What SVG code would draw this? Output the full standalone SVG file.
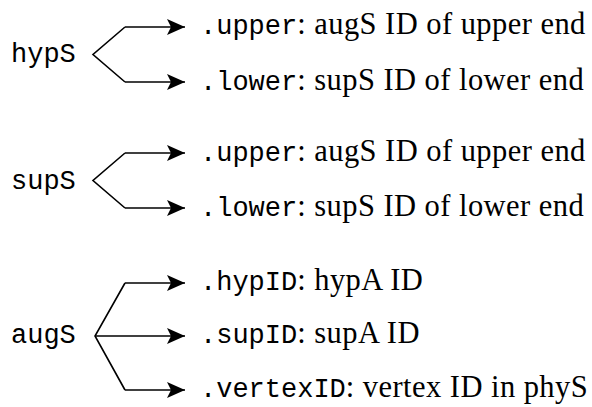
<svg xmlns="http://www.w3.org/2000/svg" width="592" height="407" viewBox="0 0 592 407">
  <style>
    .tt { font-family: "Liberation Mono", "DejaVu Sans Mono", monospace; font-size: 27px; fill: #000; }
    .rm { font-family: "Liberation Serif", "DejaVu Serif", serif; font-size: 30.5px; letter-spacing: 0.45px; fill: #000; }
    .edge { fill: none; stroke: #000; stroke-width: 1.6; stroke-linejoin: miter; }
  </style>
  <defs>
    <marker id="head" markerUnits="userSpaceOnUse" markerWidth="20" markerHeight="16" refX="18" refY="8" orient="auto">
      <path d="M0,0 L18,8 L0,16 L4,8 Z" fill="#000"/>
    </marker>
  </defs>
  <rect width="592" height="407" fill="#fff"/>

  <g id="connectors">
    <path class="edge" d="M125,27 L93,54.5 L125,82" />
    <path class="edge" d="M125,27 L185,27" marker-end="url(#head)"/>
    <path class="edge" d="M125,82 L185,82" marker-end="url(#head)"/>

    <path class="edge" d="M125,153 L93,180.5 L125,208" />
    <path class="edge" d="M125,153 L185,153" marker-end="url(#head)"/>
    <path class="edge" d="M125,208 L185,208" marker-end="url(#head)"/>

    <path class="edge" d="M125,283 L95,336 L125,390" />
    <path class="edge" d="M125,283 L185,283" marker-end="url(#head)"/>
    <path class="edge" d="M95,336 L185,336" marker-end="url(#head)"/>
    <path class="edge" d="M125,390 L185,390" marker-end="url(#head)"/>
  </g>

  <g id="hypS">
    <text class="tt" x="11" y="62">hypS</text>
  </g>
  <g id="hypS-upper">
    <text x="200" y="34"><tspan class="tt">.upper</tspan><tspan class="rm">: augS ID of upper end</tspan></text>
  </g>
  <g id="hypS-lower">
    <text x="200" y="90"><tspan class="tt">.lower</tspan><tspan class="rm">: supS ID of lower end</tspan></text>
  </g>

  <g id="supS">
    <text class="tt" x="11" y="189">supS</text>
  </g>
  <g id="supS-upper">
    <text x="200" y="161"><tspan class="tt">.upper</tspan><tspan class="rm">: augS ID of upper end</tspan></text>
  </g>
  <g id="supS-lower">
    <text x="200" y="216"><tspan class="tt">.lower</tspan><tspan class="rm">: supS ID of lower end</tspan></text>
  </g>

  <g id="augS">
    <text class="tt" x="11" y="343">augS</text>
  </g>
  <g id="augS-hypID">
    <text x="200" y="290"><tspan class="tt">.hypID</tspan><tspan class="rm">: hypA ID</tspan></text>
  </g>
  <g id="augS-supID">
    <text x="200" y="343"><tspan class="tt">.supID</tspan><tspan class="rm">: supA ID</tspan></text>
  </g>
  <g id="augS-vertexID">
    <text x="200" y="397"><tspan class="tt">.vertexID</tspan><tspan class="rm">: vertex ID in phyS</tspan></text>
  </g>
</svg>
